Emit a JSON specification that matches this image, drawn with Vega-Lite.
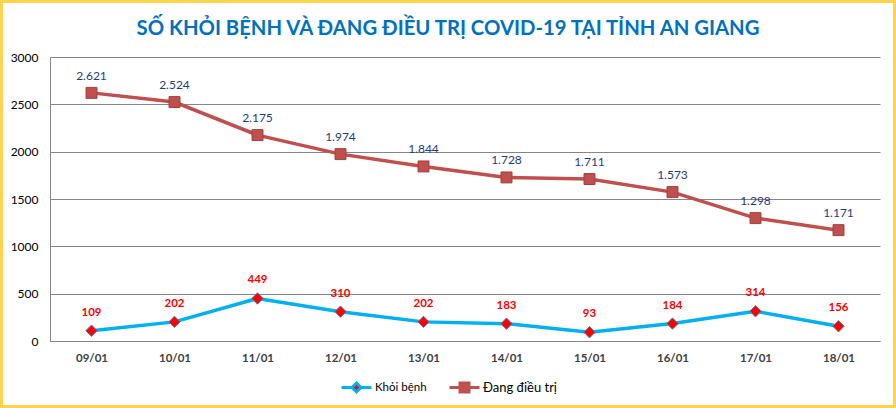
{
  "$schema": "https://vega.github.io/schema/vega-lite/v6.json",
  "width": 896,
  "height": 408,
  "autosize": {"type": "none"},
  "padding": 0,
  "background": "white",
  "title": {
    "text": "SỐ KHỎI BỆNH VÀ ĐANG ĐIỀU TRỊ COVID-19 TẠI TỈNH AN GIANG",
    "font": "Lato",
    "fontSize": 20.3,
    "fontWeight": "bold",
    "color": "#0070C0",
    "anchor": "middle",
    "frame": "group",
    "baseline": "middle",
    "offset": -49
  },
  "config": {
    "view": {"stroke": "#FFD34D", "strokeWidth": 6, "fill": "white"},
    "locale": {"number": {"decimal": ",", "thousands": ".", "grouping": [3], "currency": ["", ""]}},
    "font": "Lato"
  },
  "data": {
    "values": [
      {"ngay": "09/01", "loai": "Khỏi bệnh", "so": 109},
      {"ngay": "10/01", "loai": "Khỏi bệnh", "so": 202},
      {"ngay": "11/01", "loai": "Khỏi bệnh", "so": 449},
      {"ngay": "12/01", "loai": "Khỏi bệnh", "so": 310},
      {"ngay": "13/01", "loai": "Khỏi bệnh", "so": 202},
      {"ngay": "14/01", "loai": "Khỏi bệnh", "so": 183},
      {"ngay": "15/01", "loai": "Khỏi bệnh", "so": 93},
      {"ngay": "16/01", "loai": "Khỏi bệnh", "so": 184},
      {"ngay": "17/01", "loai": "Khỏi bệnh", "so": 314},
      {"ngay": "18/01", "loai": "Khỏi bệnh", "so": 156},
      {"ngay": "09/01", "loai": "Đang điều trị", "so": 2621},
      {"ngay": "10/01", "loai": "Đang điều trị", "so": 2524},
      {"ngay": "11/01", "loai": "Đang điều trị", "so": 2175},
      {"ngay": "12/01", "loai": "Đang điều trị", "so": 1974},
      {"ngay": "13/01", "loai": "Đang điều trị", "so": 1844},
      {"ngay": "14/01", "loai": "Đang điều trị", "so": 1728},
      {"ngay": "15/01", "loai": "Đang điều trị", "so": 1711},
      {"ngay": "16/01", "loai": "Đang điều trị", "so": 1573},
      {"ngay": "17/01", "loai": "Đang điều trị", "so": 1298},
      {"ngay": "18/01", "loai": "Đang điều trị", "so": 1171}
    ]
  },
  "encoding": {
    "x": {
      "field": "ngay",
      "type": "nominal",
      "sort": null,
      "scale": {"type": "point", "range": [50, 880], "padding": 0.5},
      "axis": {
        "title": null,
        "offset": -67,
        "labelAngle": 0,
        "labelFont": "Lato",
        "labelFontSize": 11.5,
        "labelFontWeight": "bold",
        "labelColor": "#404040",
        "labelPadding": 11,
        "ticks": false,
        "domainColor": "#868686",
        "domainWidth": 1,
        "grid": false
      }
    },
    "y": {
      "field": "so",
      "type": "quantitative",
      "scale": {"domain": [0, 3000], "range": [341, 57], "nice": false, "zero": true},
      "axis": {
        "title": null,
        "offset": -50,
        "values": [0, 500, 1000, 1500, 2000, 2500, 3000],
        "format": "d",
        "labelFont": "Lato",
        "labelFontSize": 12,
        "labelColor": "#000000",
        "labelPadding": 12,
        "ticks": false,
        "domainColor": "#868686",
        "grid": true,
        "gridColor": "#868686",
        "gridWidth": 1
      }
    }
  },
  "layer": [
    {
      "mark": {"type": "line", "strokeWidth": 3.5},
      "encoding": {
        "stroke": {
          "field": "loai",
          "type": "nominal",
          "sort": ["Khỏi bệnh", "Đang điều trị"],
          "scale": {"domain": ["Khỏi bệnh", "Đang điều trị"], "range": ["#00B0F0", "#C0504D"]},
          "legend": {
            "title": null,
            "orient": "none",
            "direction": "horizontal",
            "legendX": 340,
            "legendY": 371,
            "symbolSize": 900,
            "symbolStrokeWidth": 3,
            "labelFont": "Lato",
            "labelColor": "#000000",
            "labelOffset": 2,
            "columnPadding": 16,
            "encode": {
              "symbols": {
                "update": {
                  "shape": {"signal": "datum.value === 'Khỏi bệnh' ? 'M-1,0H-0.25M0.25,0H1M0,-0.3L0.3,0L0,0.3L-0.3,0Z' : 'M-1,0H-0.3M0.3,0H1M-0.3,-0.3H0.3V0.3H-0.3Z'"},
                  "fill": {"signal": "datum.value === 'Khỏi bệnh' ? '#FF0000' : '#C0504D'"},
                  "strokeWidth": {"value": 3},
                  "opacity": {"value": 1}
                }
              },
              "labels": {
                "update": {
                  "fontSize": {"signal": "datum.value === 'Khỏi bệnh' ? 11.5 : 13"}
                }
              }
            }
          }
        }
      }
    },
    {
      "transform": [{"filter": "datum.loai === 'Khỏi bệnh'"}],
      "mark": {"type": "point", "shape": "diamond", "filled": true, "opacity": 1, "size": 130, "fill": "#FF0000", "stroke": "#4F81BD", "strokeWidth": 1}
    },
    {
      "transform": [{"filter": "datum.loai === 'Đang điều trị'"}],
      "mark": {"type": "point", "shape": "square", "filled": true, "opacity": 1, "size": 120, "fill": "#C0504D", "stroke": "#A5403D", "strokeWidth": 1}
    },
    {
      "transform": [{"filter": "datum.loai === 'Khỏi bệnh'"}],
      "mark": {"type": "text", "dy": -18, "baseline": "middle", "font": "Lato", "fontSize": 11.5, "fontWeight": "bold", "color": "#FF0000"},
      "encoding": {"text": {"field": "so", "type": "quantitative", "format": ",d"}}
    },
    {
      "transform": [{"filter": "datum.loai === 'Đang điều trị'"}],
      "mark": {"type": "text", "dy": -17, "baseline": "middle", "font": "Lato", "fontSize": 12, "color": "#1F3C7A"},
      "encoding": {"text": {"field": "so", "type": "quantitative", "format": ",d"}}
    }
  ]
}
